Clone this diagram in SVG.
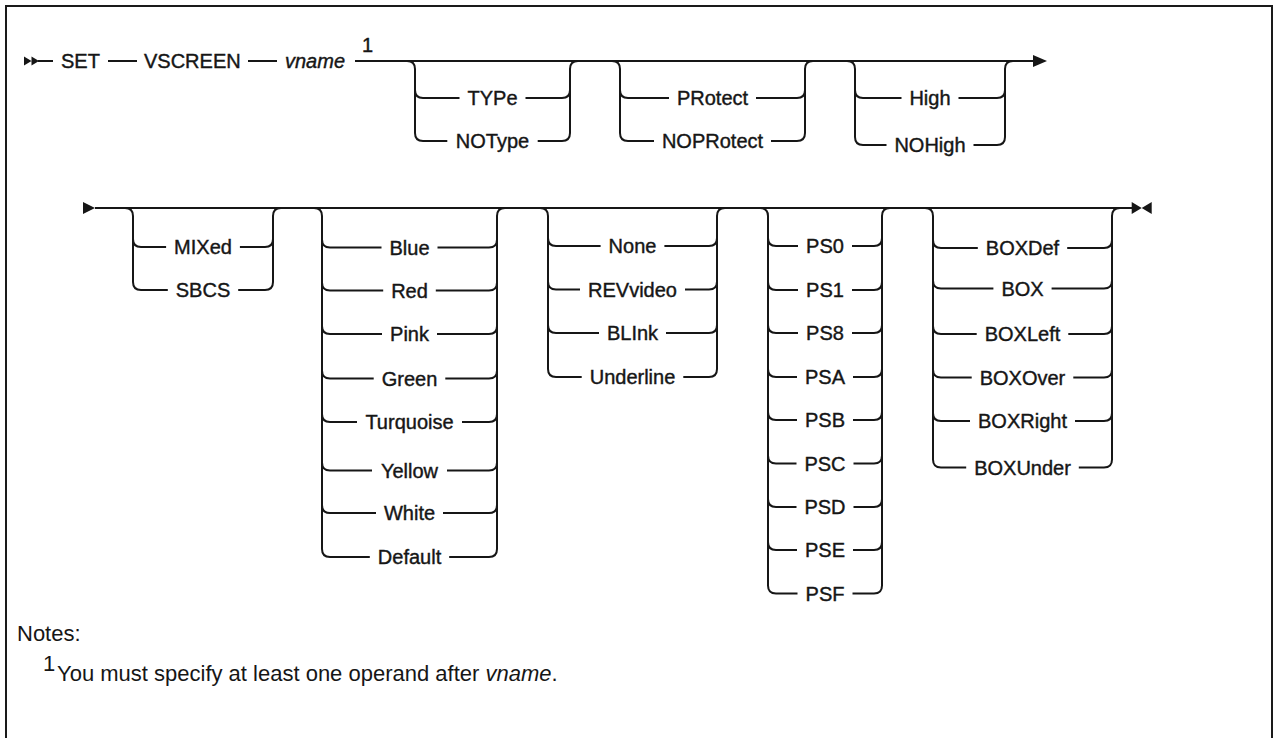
<svg xmlns="http://www.w3.org/2000/svg" width="1273" height="738" viewBox="0 0 1273 738">
<style>
.ln{fill:none;stroke:#161616;stroke-width:2}
.mk{fill:#161616;stroke:none}
.lb{font-family:"Liberation Sans",Arial,sans-serif;font-size:20px;fill:#161616;stroke:#161616;stroke-width:0.4;text-anchor:middle}
.st{font-family:"Liberation Sans",Arial,sans-serif;font-size:20px;fill:#161616;stroke:#161616;stroke-width:0.4}
.nt{font-family:"Liberation Sans",Arial,sans-serif;font-size:22px;fill:#161616}
</style>
<rect x="0" y="0" width="1273" height="738" fill="#ffffff"/>
<rect x="6" y="6" width="1266" height="800" fill="none" stroke="#1a1a1a" stroke-width="2"/>

<g id="connectors">
<path class="ln" d="M38,61 H53 M108,61 H137 M248,61 H277 M355,61 H1034"/>
<path class="mk" d="M24,56.5 L31.5,61 L24,65.5 Z M31.5,56.5 L39,61 L31.5,65.5 Z"/>
<path class="mk" d="M1033,55 L1047,61 L1033,67 Z"/>
<path class="ln" d="M407,61 Q415,61 415,69 V133 Q415,141 423,141 M415,90 Q415,98 423,98 M562,141 Q570,141 570,133 V69 Q570,61 578,61 M562,98 Q570,98 570,90 M423,98 H459.5 M525.5,98 H562 M423,141 H447.3 M537.7,141 H562"/>
<path class="ln" d="M612,61 Q620,61 620,69 V133 Q620,141 628,141 M620,90 Q620,98 628,98 M797,141 Q805,141 805,133 V69 Q805,61 813,61 M797,98 Q805,98 805,90 M628,98 H669 M756,98 H797 M628,141 H654 M771,141 H797"/>
<path class="ln" d="M847,61 Q855,61 855,69 V137 Q855,145 863,145 M855,90 Q855,98 863,98 M997,145 Q1005,145 1005,137 V69 Q1005,61 1013,61 M997,98 Q1005,98 1005,90 M863,98 H901.5 M958.5,98 H997 M863,145 H886.5 M973.5,145 H997"/>

<path class="ln" d="M95,208 H1132"/>
<path class="mk" d="M83,202 L95,208 L83,214 Z"/>
<path class="mk" d="M1131.7,202 L1141.7,208 L1131.7,214 Z M1151.7,202 L1141.7,208 L1151.7,214 Z"/>
<path class="ln" d="M125,208 Q133,208 133,216 V282 Q133,290 141,290 M133,239 Q133,247 141,247 M265,290 Q273,290 273,282 V216 Q273,208 281,208 M265,247 Q273,247 273,239 M141,247 H166.1 M239.9,247 H265 M141,290 H167.8 M238.2,290 H265"/>
<path class="ln" d="M314,208 Q322,208 322,216 V549 Q322,557 330,557 M322,239.5 Q322,247.5 330,247.5 M322,282.5 Q322,290.5 330,290.5 M322,326 Q322,334 330,334 M322,370.5 Q322,378.5 330,378.5 M322,414 Q322,422 330,422 M322,462.5 Q322,470.5 330,470.5 M322,505 Q322,513 330,513 M489,557 Q497,557 497,549 V216 Q497,208 505,208 M489,247.5 Q497,247.5 497,239.5 M489,290.5 Q497,290.5 497,282.5 M489,334 Q497,334 497,326 M489,378.5 Q497,378.5 497,370.5 M489,422 Q497,422 497,414 M489,470.5 Q497,470.5 497,462.5 M489,513 Q497,513 497,505"/>
<path class="ln" d="M330,247.5 H381.5 M437.5,247.5 H489 M330,290.5 H383.2 M435.8,290.5 H489 M330,334 H382 M437,334 H489 M330,378.5 H373.7 M445.3,378.5 H489 M330,422 H357 M462,422 H489 M330,470.5 H372 M447,470.5 H489 M330,513 H376 M443,513 H489 M330,557 H369.8 M449.2,557 H489"/>
<path class="ln" d="M540,208 Q548,208 548,216 V369 Q548,377 556,377 M548,238 Q548,246 556,246 M548,281.5 Q548,289.5 556,289.5 M548,325 Q548,333 556,333 M709,377 Q717,377 717,369 V216 Q717,208 725,208 M709,246 Q717,246 717,238 M709,289.5 Q717,289.5 717,281.5 M709,333 Q717,333 717,325"/>
<path class="ln" d="M556,246 H600.6 M664.4,246 H709 M556,289.5 H580 M685,289.5 H709 M556,333 H599 M666,333 H709 M556,377 H581.7 M683.3,377 H709"/>
<path class="ln" d="M760,208 Q768,208 768,216 V585.5 Q768,593.5 776,593.5 M768,238 Q768,246 776,246 M768,282 Q768,290 776,290 M768,325 Q768,333 776,333 M768,369 Q768,377 776,377 M768,412 Q768,420 776,420 M768,455.5 Q768,463.5 776,463.5 M768,499 Q768,507 776,507 M768,542 Q768,550 776,550 M874,593.5 Q882,593.5 882,585.5 V216 Q882,208 890,208 M874,246 Q882,246 882,238 M874,290 Q882,290 882,282 M874,333 Q882,333 882,325 M874,377 Q882,377 882,369 M874,420 Q882,420 882,412 M874,463.5 Q882,463.5 882,455.5 M874,507 Q882,507 882,499 M874,550 Q882,550 882,542"/>
<path class="ln" d="M776,246 H798 M852,246 H874 M776,290 H798 M852,290 H874 M776,333 H798 M852,333 H874 M776,377 H797 M853,377 H874 M776,420 H797 M853,420 H874 M776,463.5 H796.5 M853.5,463.5 H874 M776,507 H796.5 M853.5,507 H874 M776,550 H797 M853,550 H874 M776,593.5 H797.5 M852.5,593.5 H874"/>
<path class="ln" d="M925,208 Q933,208 933,216 V459.5 Q933,467.5 941,467.5 M933,240 Q933,248 941,248 M933,280.5 Q933,288.5 941,288.5 M933,326 Q933,334 941,334 M933,369.5 Q933,377.5 941,377.5 M933,413 Q933,421 941,421 M1104,467.5 Q1112,467.5 1112,459.5 V216 Q1112,208 1120,208 M1104,248 Q1112,248 1112,240 M1104,288.5 Q1112,288.5 1112,280.5 M1104,334 Q1112,334 1112,326 M1104,377.5 Q1112,377.5 1112,369.5 M1104,421 Q1112,421 1112,413"/>
<path class="ln" d="M941,248 H977.8 M1067.2,248 H1104 M941,288.5 H993.4 M1051.6,288.5 H1104 M941,334 H976.7 M1068.3,334 H1104 M941,377.5 H971.7 M1073.3,377.5 H1104 M941,421 H970 M1075,421 H1104 M941,467.5 H966.2 M1078.8,467.5 H1104"/>
</g>

<g id="n-set"><text class="st" x="61" y="68">SET</text></g>
<g id="n-vscreen"><text class="st" x="144" y="68">VSCREEN</text></g>
<g id="n-vname"><text class="st" x="285" y="68" font-style="italic">vname</text><text class="st" x="362" y="52" font-size="18">1</text></g>

<g id="n-type"><text class="lb" x="492.5" y="105">TYPe</text></g>
<g id="n-notype"><text class="lb" x="492.5" y="148">NOType</text></g>
<g id="n-protect"><text class="lb" x="712.5" y="105">PRotect</text></g>
<g id="n-noprotect"><text class="lb" x="712.5" y="148">NOPRotect</text></g>
<g id="n-high"><text class="lb" x="930" y="105">High</text></g>
<g id="n-nohigh"><text class="lb" x="930" y="152">NOHigh</text></g>

<g id="n-mixed"><text class="lb" x="203" y="254">MIXed</text></g>
<g id="n-sbcs"><text class="lb" x="203" y="297">SBCS</text></g>

<g id="n-blue"><text class="lb" x="409.5" y="254.5">Blue</text></g>
<g id="n-red"><text class="lb" x="409.5" y="297.5">Red</text></g>
<g id="n-pink"><text class="lb" x="409.5" y="341">Pink</text></g>
<g id="n-green"><text class="lb" x="409.5" y="385.5">Green</text></g>
<g id="n-turquoise"><text class="lb" x="409.5" y="429">Turquoise</text></g>
<g id="n-yellow"><text class="lb" x="409.5" y="477.5">Yellow</text></g>
<g id="n-white"><text class="lb" x="409.5" y="520">White</text></g>
<g id="n-default"><text class="lb" x="409.5" y="564">Default</text></g>

<g id="n-none"><text class="lb" x="632.5" y="253">None</text></g>
<g id="n-revvideo"><text class="lb" x="632.5" y="296.5">REVvideo</text></g>
<g id="n-blink"><text class="lb" x="632.5" y="340">BLInk</text></g>
<g id="n-underline"><text class="lb" x="632.5" y="384">Underline</text></g>

<g id="n-ps0"><text class="lb" x="825" y="253">PS0</text></g>
<g id="n-ps1"><text class="lb" x="825" y="297">PS1</text></g>
<g id="n-ps8"><text class="lb" x="825" y="340">PS8</text></g>
<g id="n-psa"><text class="lb" x="825" y="384">PSA</text></g>
<g id="n-psb"><text class="lb" x="825" y="427">PSB</text></g>
<g id="n-psc"><text class="lb" x="825" y="470.5">PSC</text></g>
<g id="n-psd"><text class="lb" x="825" y="514">PSD</text></g>
<g id="n-pse"><text class="lb" x="825" y="557">PSE</text></g>
<g id="n-psf"><text class="lb" x="825" y="600.5">PSF</text></g>

<g id="n-boxdef"><text class="lb" x="1022.5" y="255">BOXDef</text></g>
<g id="n-box"><text class="lb" x="1022.5" y="295.5">BOX</text></g>
<g id="n-boxleft"><text class="lb" x="1022.5" y="341">BOXLeft</text></g>
<g id="n-boxover"><text class="lb" x="1022.5" y="384.5">BOXOver</text></g>
<g id="n-boxright"><text class="lb" x="1022.5" y="428">BOXRight</text></g>
<g id="n-boxunder"><text class="lb" x="1022.5" y="474.5">BOXUnder</text></g>

<g id="notes">
<text class="nt" x="17" y="641">Notes:</text>
<text class="nt" x="43" y="671" font-size="15">1</text>
<text class="nt" x="57" y="681">You must specify at least one operand after <tspan font-style="italic">vname</tspan>.</text>
</g>
</svg>
